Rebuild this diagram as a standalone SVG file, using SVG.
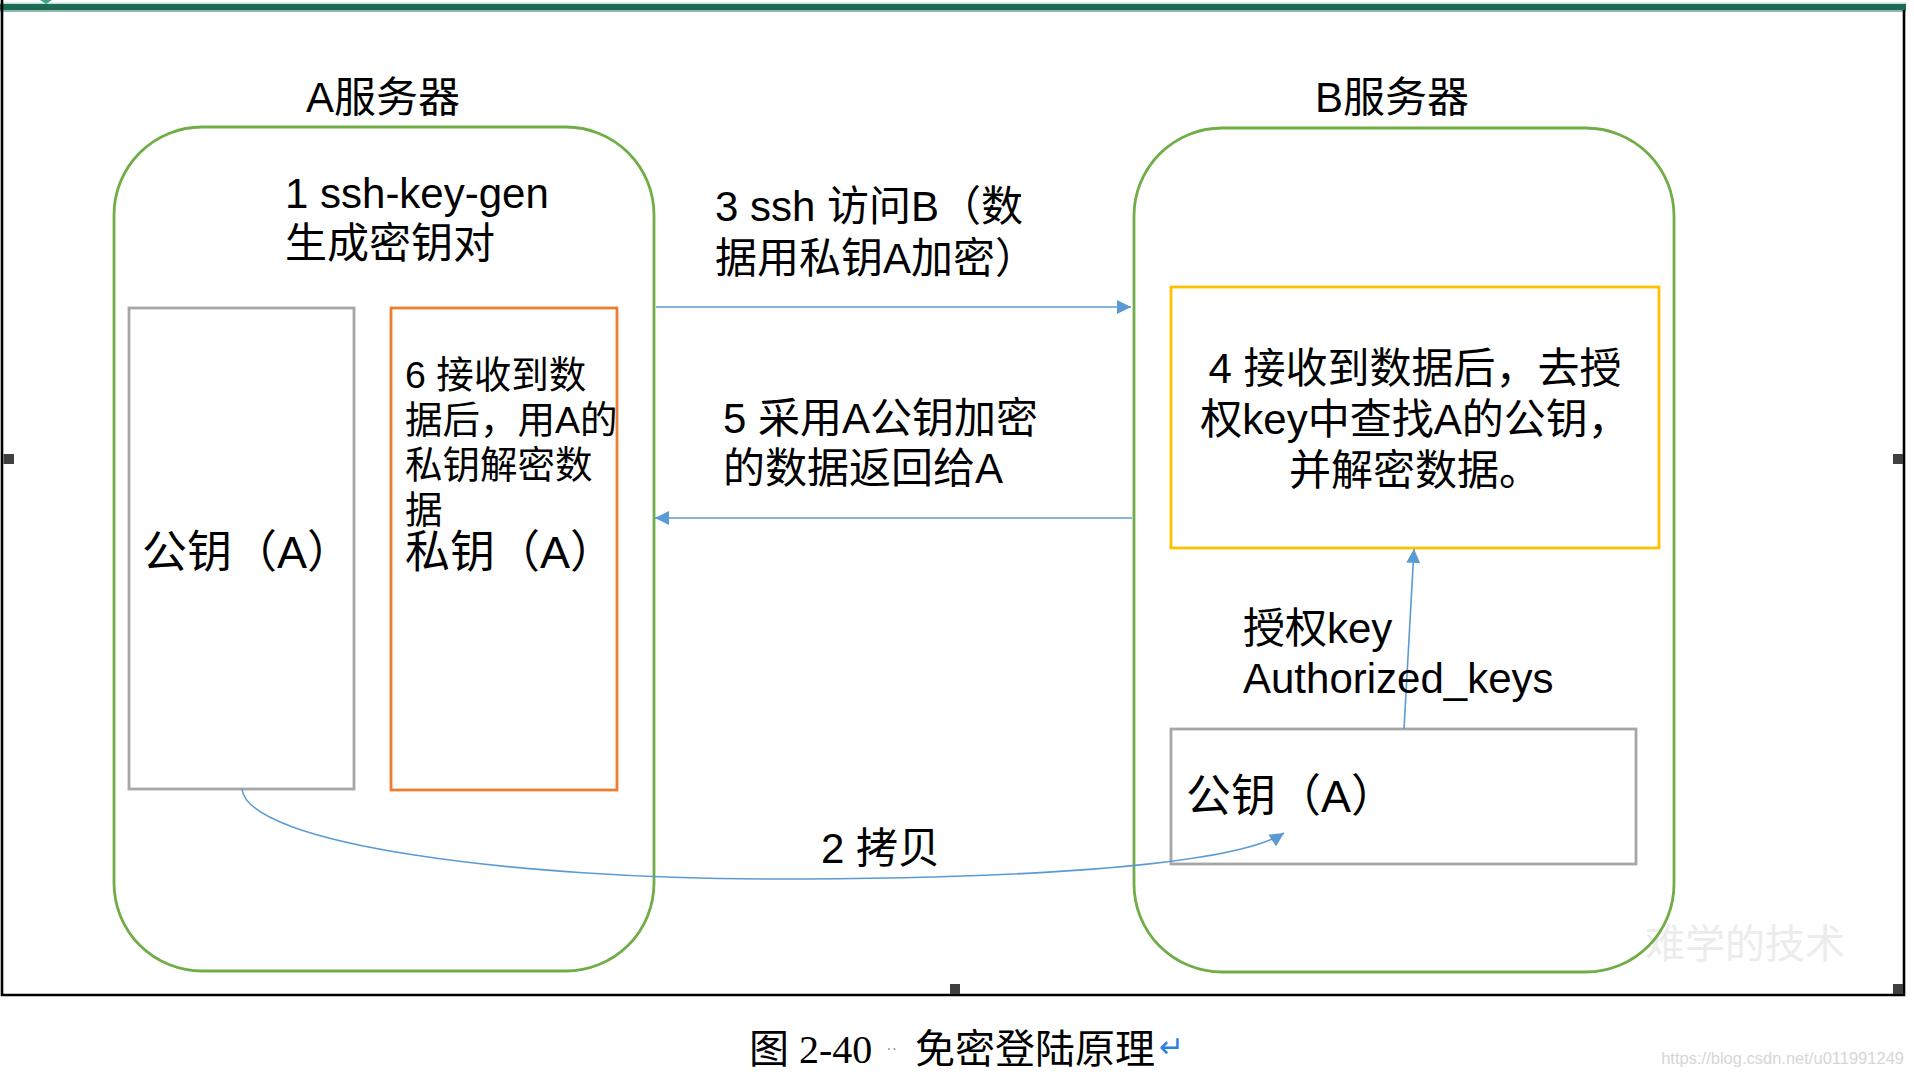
<svg xmlns="http://www.w3.org/2000/svg" width="1914" height="1076" viewBox="0 0 1914 1076">
<style>
.t{font-family:"Liberation Sans","Noto Sans CJK SC",sans-serif;fill:#000}
.f42{font-size:42px}
.f38{font-size:37.5px}
.f45{font-size:45px}
.cont{fill:none;stroke:#70ad47;stroke-width:2.8}
.gray{fill:#fff;stroke:#a6a6a6;stroke-width:2.8}
.conn{fill:none;stroke:#5b9bd5;stroke-width:1.6}
.handle{fill:#404040}
</style>
<defs>
<marker id="ah" viewBox="0 0 10 10" refX="10" refY="5" markerWidth="15" markerHeight="14" markerUnits="userSpaceOnUse" orient="auto">
<path d="M0,0 L10,5 L0,10 z" fill="#5b9bd5"/>
</marker>
</defs>
<rect width="1914" height="1076" fill="#fff"/>
<g id="frame">
<rect x="0" y="2.5" width="1906" height="2" fill="#c5ddd4"/>
<rect x="0" y="4" width="1906" height="6.5" fill="#1d6b55"/>
<rect x="0" y="10.5" width="1906" height="1.5" fill="#8fb9aa"/>
<path d="M40,0 L46,4 L52,0 z" fill="#3aa58a"/>
<path d="M2,0 V995 H1904 V10" fill="none" stroke="#000" stroke-width="2.6"/>
<rect class="handle" x="3.5" y="454" width="10.5" height="10"/>
<rect class="handle" x="1893" y="454" width="10" height="10"/>
<rect class="handle" x="950" y="984" width="10" height="10"/>
<rect class="handle" x="1893" y="984" width="10" height="10"/>
</g>
<g id="watermark">
<text x="1645" y="958" font-family="'Noto Sans CJK SC',sans-serif" font-size="40" fill="#ececec">难学的技术</text>
<text x="1904" y="1064" text-anchor="end" font-family="'Liberation Sans',sans-serif" font-size="16.5" fill="#d6d6d6">https://blog.csdn.net/u011991249</text>
</g>
<g id="serverA">
<text class="t f42" x="306" y="112">A服务器</text>
<rect class="cont" x="114" y="127" width="540" height="844" rx="88" ry="88"/>
</g>
<g id="serverB">
<text class="t f42" x="1315" y="112">B服务器</text>
<rect class="cont" x="1134" y="128" width="540" height="844" rx="88" ry="88"/>
</g>
<g id="keygen">
<text class="t f42" x="285" y="208">1 ssh-key-gen</text>
<text class="t f42" x="285" y="258">生成密钥对</text>
</g>
<g id="pubkeyA">
<rect class="gray" x="129" y="308" width="225" height="481"/>
<text class="t f45" x="142" y="568">公钥（A）</text>
</g>
<g id="privkeyA">
<rect x="391" y="308" width="226" height="482" fill="#fff" stroke="#ed7d31" stroke-width="2.8"/>
<text class="t f38" x="405" y="388">6 接收到数</text>
<text class="t f38" x="405" y="433">据后，用A的</text>
<text class="t f38" x="405" y="478">私钥解密数</text>
<text class="t f38" x="405" y="523">据</text>
<text class="t f45" x="405" y="568">私钥（A）</text>
</g>
<g id="verifyB">
<rect x="1171" y="287" width="488" height="261" fill="#fff" stroke="#ffc000" stroke-width="2.8"/>
<text class="t f42" x="1415" y="383" text-anchor="middle">4 接收到数据后，去授</text>
<text class="t f42" x="1415" y="434" text-anchor="middle">权key中查找A的公钥，</text>
<text class="t f42" x="1415" y="485" text-anchor="middle">并解密数据。</text>
</g>
<g id="pubkeyB">
<rect class="gray" x="1171" y="729" width="465" height="135"/>
<text class="t f45" x="1186" y="812">公钥（A）</text>
</g>
<g id="connectors">
<line class="conn" x1="656" y1="307" x2="1131" y2="307" marker-end="url(#ah)"/>
<line class="conn" x1="1132" y1="518" x2="655" y2="518" marker-end="url(#ah)"/>
<line class="conn" x1="1404" y1="729" x2="1414" y2="549" marker-end="url(#ah)"/>
<path class="conn" d="M242,789 C248,845 520,879 770,879 C1000,879 1230,868 1284,833" marker-end="url(#ah)"/>
</g>
<g id="labels">
<text class="t f42" x="715" y="221">3 ssh 访问B（数</text>
<text class="t f42" x="715" y="273">据用私钥A加密）</text>
<text class="t f42" x="723" y="433">5 采用A公钥加密</text>
<text class="t f42" x="723" y="483">的数据返回给A</text>
<text class="t f42" x="1243" y="643">授权key</text>
<text class="t f42" x="1243" y="693">Authorized_keys</text>
<text class="t f42" x="821" y="863">2 拷贝</text>
</g>
<g id="caption">
<text x="749" y="1063" font-family="'Liberation Serif','Noto Sans CJK SC',serif" font-size="40" fill="#000">图 2-40<tspan font-size="16" fill="#9a9a9a" dx="14" dy="-8">··</tspan><tspan dx="18" dy="8">免密登陆原理</tspan><tspan font-family="'DejaVu Sans',sans-serif" font-size="30" fill="#2f7fe8" dx="4" dy="-6">↵</tspan></text>
</g>
</svg>
